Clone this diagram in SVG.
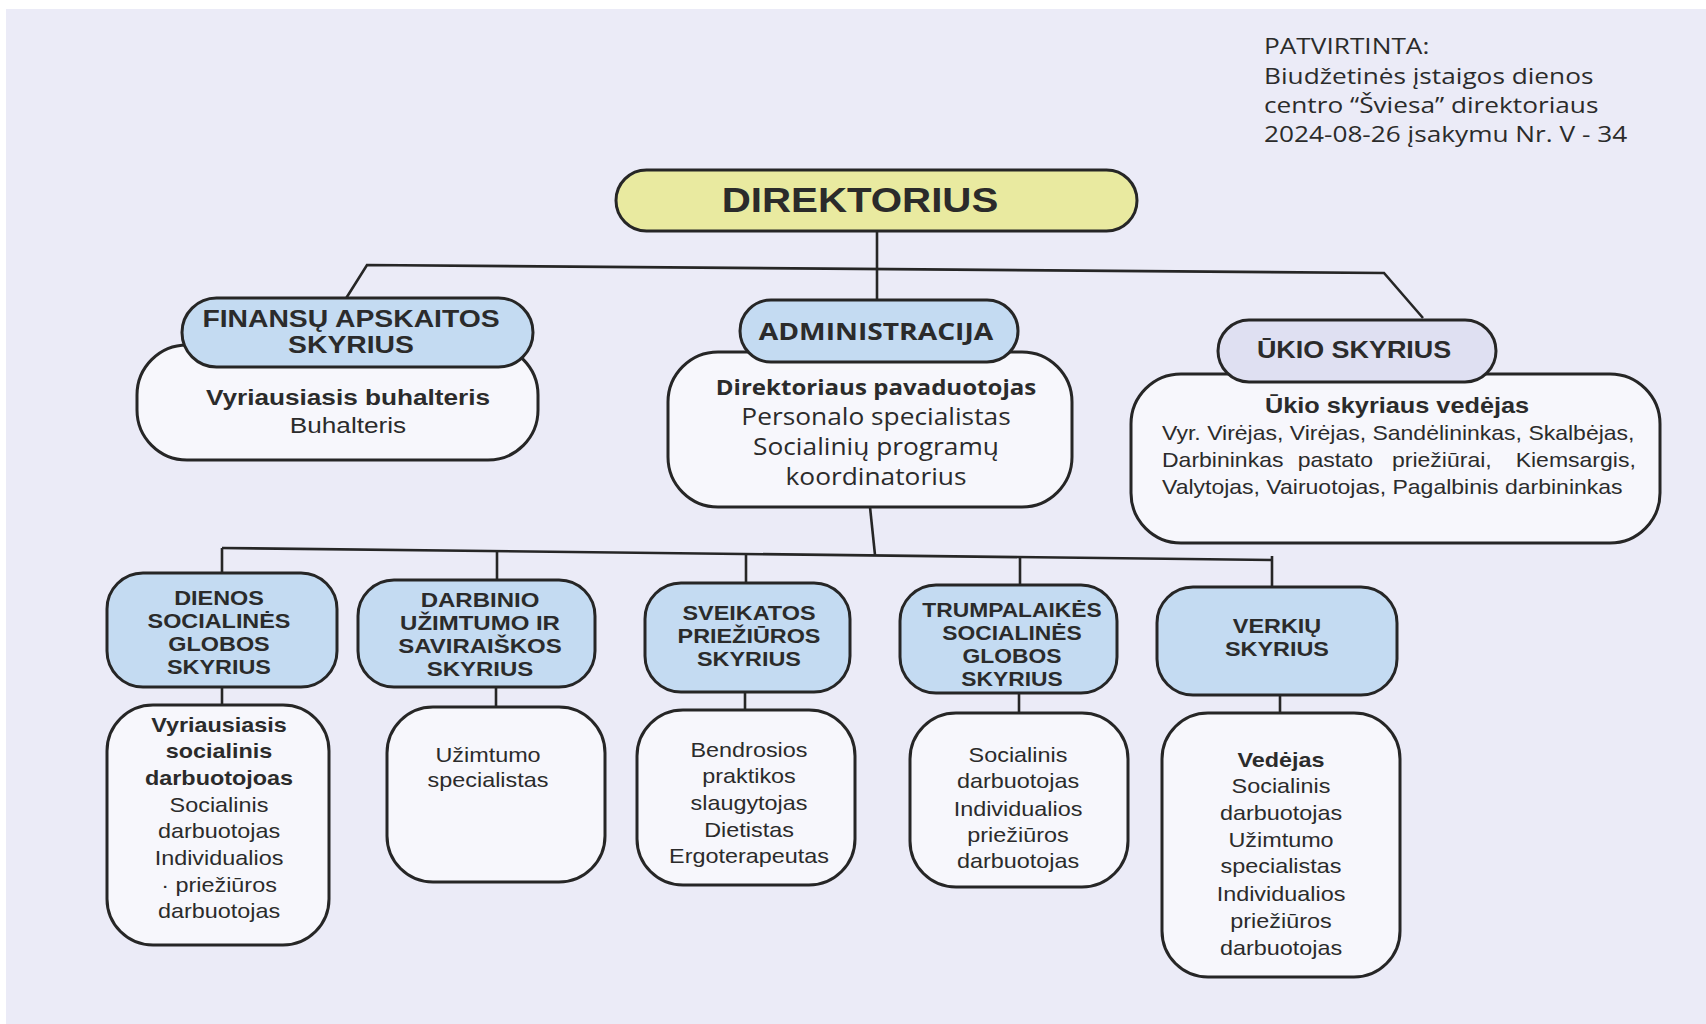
<svg xmlns="http://www.w3.org/2000/svg" width="1706" height="1024" viewBox="0 0 1706 1024">
<style>
.hb{fill:#c4dbf2;stroke:#262626;stroke-width:3}
.hy{fill:#e9eaa0;stroke:#262626;stroke-width:3}
.hg{fill:#dfe0f2;stroke:#262626;stroke-width:3}
.bd{fill:#f7f7fc;stroke:#262626;stroke-width:3}
.cn{fill:none;stroke:#262626;stroke-width:2.6;stroke-linejoin:miter}
text{fill:#2b2b2b;font-family:"Liberation Sans",Arial,sans-serif;text-anchor:middle}
.t0{font-weight:700;font-size:35px}
.th{font-weight:700;font-size:24px}
.ts{font-weight:700;font-size:20px}
.tb{font-weight:700;font-size:20px}
.tr{font-size:20px}
.os{font-family:"Open Sans",sans-serif}
.ap{font-family:"Open Sans",sans-serif;font-size:21.5px;text-anchor:start}
</style>
<rect x="0" y="0" width="1706" height="1024" fill="#ffffff"/>
<rect x="6" y="9" width="1700" height="1015" fill="#ebebf7"/>

<g id="approval">
<g transform="translate(1264 0) scale(1.22 1)">
<text class="ap"><tspan x="0" y="54">PATVIRTINTA:</tspan><tspan x="0" y="84">Biudžetinės įstaigos dienos</tspan><tspan x="0" y="113">centro “Šviesa”  direktoriaus</tspan><tspan x="0" y="142">2024-08-26 įsakymu Nr. V - 34</tspan></text>
</g>
</g>

<g id="connectors">
<path class="cn" d="M877 231 V300"/>
<path class="cn" d="M345 300 L367 265 L1384 273 L1423 318"/>
<path class="cn" d="M870 507 L875 555"/>
<path class="cn" d="M222 548 L1272 560"/>
<path class="cn" d="M222 548 V573"/>
<path class="cn" d="M497 551 V580"/>
<path class="cn" d="M746 554 V583"/>
<path class="cn" d="M1020 557 V585"/>
<path class="cn" d="M1272 556 V587"/>
<path class="cn" d="M222 687 V705"/>
<path class="cn" d="M496 687 V707"/>
<path class="cn" d="M745 692 V710"/>
<path class="cn" d="M1019 693 V713"/>
<path class="cn" d="M1280 695 V713"/>
</g>

<g id="direktorius">
<rect class="hy" x="616" y="170" width="521" height="61" rx="30.5"/>
<g transform="translate(860 0) scale(1.15 1)"><text class="t0" x="0" y="212">DIREKTORIUS</text></g>
</g>

<g id="finansu">
<rect class="bd" x="137" y="345" width="401" height="115" rx="50"/>
<rect class="hb" x="182" y="298" width="351" height="69" rx="34.5"/>
<g transform="translate(351 0) scale(1.18 1)"><text class="th"><tspan x="0" y="327">FINANSŲ APSKAITOS</tspan><tspan x="0" y="353">SKYRIUS</tspan></text></g>
<g transform="translate(348 0) scale(1.19 1)"><text><tspan class="tb" x="0" y="405" style="font-size:22px">Vyriausiasis buhalteris</tspan><tspan class="tr" x="0" y="433" style="font-size:22px">Buhalteris</tspan></text></g>
</g>

<g id="administracija">
<rect class="bd" x="668" y="352" width="404" height="155" rx="50"/>
<rect class="hb" x="740" y="300" width="278" height="62" rx="31"/>
<g transform="translate(876 0) scale(1.2 1)"><text class="os" style="font-weight:700;font-size:23.5px" x="0" y="340">ADMINISTRACIJA</text></g>
<g transform="translate(876 0) scale(1.12 1)">
<text class="os" style="font-size:23.5px"><tspan x="0" y="395" style="font-weight:700;font-size:21.5px">Direktoriaus pavaduotojas</tspan><tspan x="0" y="425">Personalo specialistas</tspan><tspan x="0" y="455">Socialinių programų</tspan><tspan x="0" y="485">koordinatorius</tspan></text></g>
</g>

<g id="ukio">
<rect class="bd" x="1131" y="374" width="529" height="169" rx="50"/>
<rect class="hg" x="1218" y="320" width="278" height="62" rx="31"/>
<g transform="translate(1354 0) scale(1.17 1)"><text class="th" style="font-size:23px" x="0" y="358">ŪKIO SKYRIUS</text></g>
<g transform="translate(1397 0) scale(1.15 1)"><text class="tb" style="font-size:22px" x="0" y="413">Ūkio skyriaus vedėjas</text></g>
<g transform="translate(1162 0) scale(1.15 1)"><text class="tr" style="text-anchor:start">
<tspan x="0" y="440">Vyr. Virėjas, Virėjas, Sandėlininkas, Skalbėjas,</tspan>
<tspan x="0" y="494">Valytojas, Vairuotojas, Pagalbinis darbininkas</tspan></text>
<text class="tr" style="text-anchor:start" y="467"><tspan x="0">Darbininkas</tspan><tspan x="118">pastato</tspan><tspan x="200">priežiūrai,</tspan></text>
<text class="tr" style="text-anchor:end" x="412" y="467">Kiemsargis,</text></g>
</g>

<g id="dienos">
<rect class="bd" x="107" y="705" width="222" height="240" rx="46"/>
<rect class="hb" x="107" y="573" width="230" height="114" rx="36"/>
<g transform="translate(219 0) scale(1.17 1)"><text class="ts"><tspan x="0" y="605">DIENOS</tspan><tspan x="0" y="628">SOCIALINĖS</tspan><tspan x="0" y="651">GLOBOS</tspan><tspan x="0" y="674">SKYRIUS</tspan></text>
<text class="tr"><tspan class="tb" x="0" y="732">Vyriausiasis</tspan><tspan class="tb" x="0" y="758">socialinis</tspan><tspan class="tb" x="0" y="785">darbuotojoas</tspan><tspan x="0" y="812">Socialinis</tspan><tspan x="0" y="838">darbuotojas</tspan><tspan x="0" y="865">Individualios</tspan><tspan x="0" y="892">· priežiūros</tspan><tspan x="0" y="918">darbuotojas</tspan></text></g>
</g>

<g id="darbinio">
<rect class="bd" x="387" y="707" width="218" height="175" rx="46"/>
<rect class="hb" x="358" y="580" width="237" height="107" rx="36"/>
<g transform="translate(480 0) scale(1.2 1)"><text class="ts"><tspan x="0" y="607">DARBINIO</tspan><tspan x="0" y="630">UŽIMTUMO IR</tspan><tspan x="0" y="653">SAVIRAIŠKOS</tspan><tspan x="0" y="676">SKYRIUS</tspan></text></g>
<g transform="translate(488 0) scale(1.17 1)"><text class="tr"><tspan x="0" y="762">Užimtumo</tspan><tspan x="0" y="787">specialistas</tspan></text></g>
</g>

<g id="sveikatos">
<rect class="bd" x="637" y="710" width="218" height="175" rx="46"/>
<rect class="hb" x="645" y="583" width="205" height="109" rx="36"/>
<g transform="translate(749 0) scale(1.17 1)"><text class="ts"><tspan x="0" y="620">SVEIKATOS</tspan><tspan x="0" y="643">PRIEŽIŪROS</tspan><tspan x="0" y="666">SKYRIUS</tspan></text>
<text class="tr"><tspan x="0" y="757">Bendrosios</tspan><tspan x="0" y="783">praktikos</tspan><tspan x="0" y="810">slaugytojas</tspan><tspan x="0" y="837">Dietistas</tspan><tspan x="0" y="863">Ergoterapeutas</tspan></text></g>
</g>

<g id="trumpalaikes">
<rect class="bd" x="910" y="713" width="218" height="174" rx="46"/>
<rect class="hb" x="900" y="585" width="217" height="108" rx="36"/>
<g transform="translate(1012 0) scale(1.14 1)"><text class="ts"><tspan x="0" y="617">TRUMPALAIKĖS</tspan><tspan x="0" y="640">SOCIALINĖS</tspan><tspan x="0" y="663">GLOBOS</tspan><tspan x="0" y="686">SKYRIUS</tspan></text></g>
<g transform="translate(1018 0) scale(1.17 1)"><text class="tr"><tspan x="0" y="762">Socialinis</tspan><tspan x="0" y="788">darbuotojas</tspan><tspan x="0" y="816">Individualios</tspan><tspan x="0" y="842">priežiūros</tspan><tspan x="0" y="868">darbuotojas</tspan></text></g>
</g>

<g id="verkiu">
<rect class="bd" x="1162" y="713" width="238" height="264" rx="46"/>
<rect class="hb" x="1157" y="587" width="240" height="108" rx="36"/>
<g transform="translate(1277 0) scale(1.17 1)"><text class="ts"><tspan x="0" y="633">VERKIŲ</tspan><tspan x="0" y="656">SKYRIUS</tspan></text></g>
<g transform="translate(1281 0) scale(1.17 1)"><text class="tr"><tspan class="tb" x="0" y="767">Vedėjas</tspan><tspan x="0" y="793">Socialinis</tspan><tspan x="0" y="820">darbuotojas</tspan><tspan x="0" y="847">Užimtumo</tspan><tspan x="0" y="873">specialistas</tspan><tspan x="0" y="901">Individualios</tspan><tspan x="0" y="928">priežiūros</tspan><tspan x="0" y="955">darbuotojas</tspan></text></g>
</g>
</svg>
